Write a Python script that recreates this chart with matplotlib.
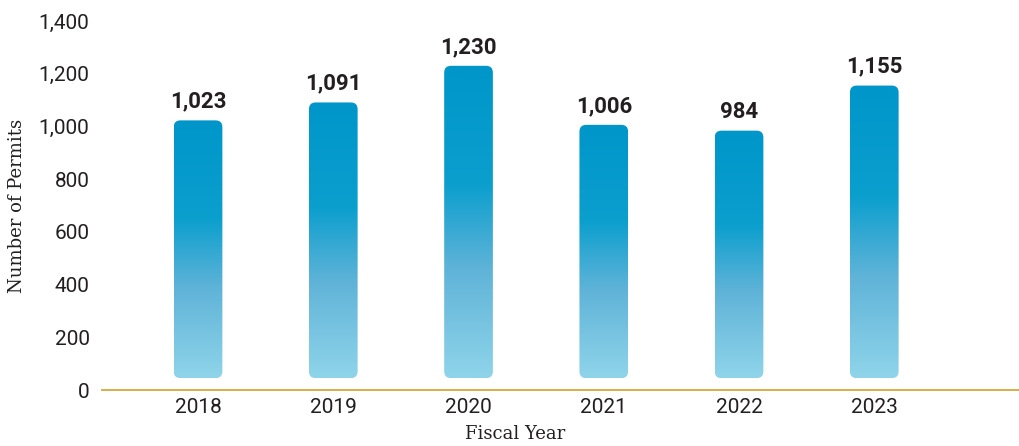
import numpy as np
import matplotlib.pyplot as plt
from matplotlib.patches import FancyBboxPatch
from matplotlib.colors import LinearSegmentedColormap

years = ['2018', '2019', '2020', '2021', '2022', '2023']
permits = [1023, 1091, 1230, 1006, 984, 1155]
value_labels = ['1,023', '1,091', '1,230', '1,006', '984', '1,155']
y_ticks = [0, 200, 400, 600, 800, 1000, 1200, 1400]
y_tick_labels = ['0', '200', '400', '600', '800', '1,000', '1,200', '1,400']

bar_width = 0.36
bar_base = 45
grad = LinearSegmentedColormap.from_list(
    'bar', [(0.0, '#8fd4ea'), (0.35, '#5fb3d8'), (0.62, '#0b9fce'), (1.0, '#0096ca')])

fig = plt.figure(figsize=(10.19, 4.46), dpi=100)
ax = fig.add_axes([102 / 1019, 56 / 446, 1 - 102 / 1019, (390 - 21) / 446])

x = np.arange(len(years))
for xi, val, lab in zip(x, permits, value_labels):
    left = xi - bar_width / 2
    patch = FancyBboxPatch((left, bar_base), bar_width, val - bar_base,
                           boxstyle='round,pad=0,rounding_size=0.05',
                           mutation_aspect=520, facecolor='none', edgecolor='none')
    ax.add_patch(patch)
    g = np.linspace(0, 1, 256).reshape(-1, 1)
    im = ax.imshow(g, cmap=grad, origin='lower', aspect='auto',
                   extent=(left, left + bar_width, bar_base, val), zorder=2)
    im.set_clip_path(patch)
    ax.text(xi, val + 30, lab, ha='center', va='bottom', fontsize=16,
            fontweight='bold', family='Roboto', color='#231f20')

ax.set_xlim(-0.71, 6.07)
ax.set_ylim(0, 1400)
ax.set_xticks(x)
ax.set_xticklabels(years, family='Roboto', fontsize=15, color='#231f20')
ax.set_yticks(y_ticks)
ax.set_yticklabels(y_tick_labels, family='Roboto', fontsize=15, color='#231f20')
ax.tick_params(length=0, pad=9)
ax.tick_params(axis='x', pad=6)

for s in ['top', 'right', 'left']:
    ax.spines[s].set_visible(False)
ax.spines['bottom'].set_color('#d4a83a')
ax.spines['bottom'].set_linewidth(1.3)

ax.set_ylabel('Number of Permits', family='DejaVu Serif', fontsize=13, color='#231f20')
ax.yaxis.set_label_coords(-0.083, 0.5)
ax.set_xlabel('Fiscal Year', family='DejaVu Serif', fontsize=13, color='#231f20')
ax.xaxis.set_label_coords(0.45, -0.095)

fig.savefig('out.png', dpi=100)
